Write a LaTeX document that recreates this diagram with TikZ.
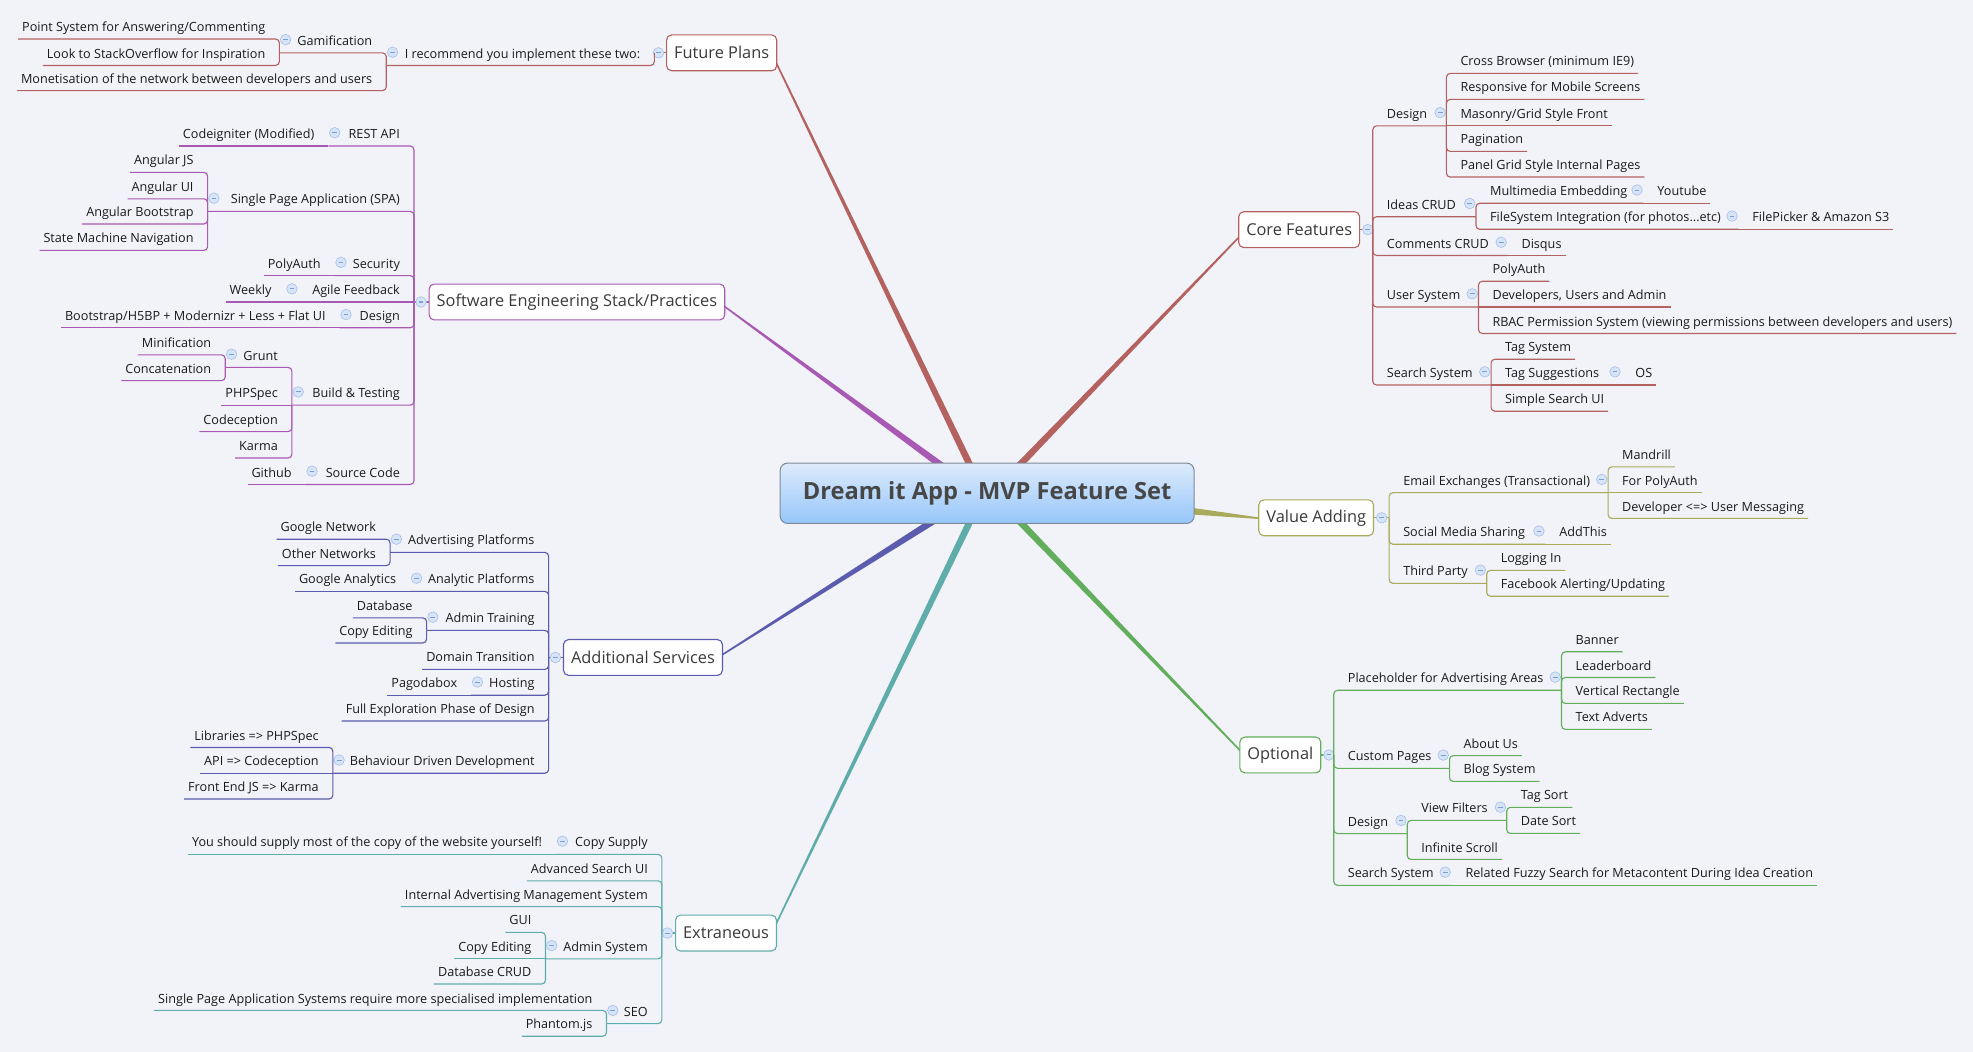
\documentclass[tikz,border=0pt]{standalone}
\usepackage{fontspec}
\setmainfont{Open Sans}
\usetikzlibrary{calc}
\definecolor{bgc}{HTML}{F2F3F9}
\definecolor{txt}{HTML}{1A1A1A}
\definecolor{ttxt}{HTML}{3A3A3A}
\definecolor{ctxt}{HTML}{474747}
\definecolor{mkf}{HTML}{D6E4F7}
\definecolor{mkd}{HTML}{A8C0E8}
\definecolor{mkm}{HTML}{7F9ED4}
\definecolor{fpc}{HTML}{B3625F}
\definecolor{sec}{HTML}{A859B3}
\definecolor{asc}{HTML}{5C5CAE}
\definecolor{exc}{HTML}{5FADAA}
\definecolor{cfc}{HTML}{B3625F}
\definecolor{vac}{HTML}{AAAA5C}
\definecolor{opc}{HTML}{62AE5C}
\definecolor{HTMLgray}{HTML}{7E8A96}
\definecolor{cTop}{HTML}{DDEBFB}
\definecolor{cBot}{HTML}{96C6FA}
\colorlet{bc}{black}
\tikzset{
  rt/.style={anchor=south west, inner xsep=3pt, inner ysep=3.2pt, text height=7.5pt, text depth=2.5pt, font=\fontsize{10.05}{11}\selectfont, text=txt},
  lt/.style={rt, anchor=south east},
  ln/.style={draw=bc, line width=0.9pt, rounded corners=3pt},
  mk/.style={circle, inner sep=0pt, minimum size=8.4pt, fill=mkf, draw=mkd, line width=0.5pt,
    path picture={\draw[mkm, line width=0.8pt] ($(path picture bounding box.center)+(-1.9,0)$) -- ($(path picture bounding box.center)+(1.9,0)$);}},
  topic/.style={draw=bc, fill=white, rounded corners=4pt, line width=0.9pt, inner xsep=6pt, minimum height=28.5pt, font=\fontsize{13}{15}\selectfont, text=ttxt},
  central/.style={draw=HTMLgray, rounded corners=6pt, line width=0.8pt, top color=cTop, bottom color=cBot, minimum width=329pt, minimum height=48pt, font=\bfseries\fontsize{18.8}{22}\selectfont, text=ctxt},
}
% junction coordinate with remembered y
\newcommand\J[3]{\coordinate (#1J) at (#2,#3);\expandafter\gdef\csname jy@#1\endcsname{#3}}
% right leaf: name, parent, underline y, text
\newcommand\RL[4]{%
  \node[rt] (#1) at ($(#2J |- 0,#3)+(8,0)$) {#4};
  \ifdim\csname jy@#2\endcsname pt=#3pt \draw[ln] (#2J) -- (#1.south east);
  \else \draw[ln] (#2J) |- (#1.south east); \fi}
% right middle: name, parent, underline y, junction x, text
\newcommand\RM[5]{%
  \node[rt] (#1) at ($(#2J |- 0,#3)+(8,0)$) {#5};
  \J{#1}{#4}{#3}
  \ifdim\csname jy@#2\endcsname pt=#3pt \draw[ln] (#2J) -- (#1J);
  \else \draw[ln] (#2J) |- (#1J); \fi
  \node[mk] (#1M) at ($(#1J)+(-5,-10.5)$) {};}
% left leaf
\newcommand\LL[4]{%
  \node[lt] (#1) at ($(#2J |- 0,#3)+(-8,0)$) {#4};
  \ifdim\csname jy@#2\endcsname pt=#3pt \draw[ln] (#2J) -- (#1.south west);
  \else \draw[ln] (#2J) |- (#1.south west); \fi}
% left middle
\newcommand\LM[5]{%
  \node[lt] (#1) at ($(#2J |- 0,#3)+(-8,0)$) {#5};
  \J{#1}{#4}{#3}
  \ifdim\csname jy@#2\endcsname pt=#3pt \draw[ln] (#2J) -- (#1J);
  \else \draw[ln] (#2J) |- (#1J); \fi
  \node[mk] (#1M) at ($(#1J)+(5,-10.5)$) {};}
% tapered main branch
\newcommand\taper[3]{%
  \fill[#3] ($(#1)!2.7pt!90:(#2)$) -- ($(#2)!0.6pt!-90:(#1)$) -- ($(#2)!0.6pt!90:(#1)$) -- ($(#1)!2.7pt!-90:(#2)$) -- cycle;}
\begin{document}
\begin{tikzpicture}[x=1pt,y=-1pt]
\path[use as bounding box, fill=bgc] (0,0) rectangle (1568,836);
% ---- main branches ----
\coordinate (cFP) at (772,372);  \coordinate (eFP) at (615,46);
\coordinate (cSE) at (751,372);  \coordinate (eSE) at (575,243);
\coordinate (cAS) at (745,412);  \coordinate (eAS) at (573,521);
\coordinate (cEX) at (772,412);  \coordinate (eEX) at (615,738);
\coordinate (cCF) at (808,372);  \coordinate (eCF) at (987,186);
\coordinate (cVA) at (945,406);  \coordinate (eVA) at (1002,412);
\coordinate (cOP) at (808,412);  \coordinate (eOP) at (987,598);
\taper{cFP}{eFP}{fpc}
\taper{cSE}{eSE}{sec}
\taper{cAS}{eAS}{asc}
\taper{cEX}{eEX}{exc}
\taper{cCF}{eCF}{cfc}
\taper{cVA}{eVA}{vac}
\taper{cOP}{eOP}{opc}
\node[central] (c) at (784.5,392) {Dream it App - MVP Feature Set};
% ---- Future Plans ----
\begin{scope}\colorlet{bc}{fpc}
\node[topic] (fp) at (573.5,42) {Future Plans};
\J{fp}{520}{42}
\draw[ln] (fp.west) -- (fpJ);
\node[mk] (fpM) at ($(fp.west)+(-6,0)$) {};
\LM{ir}{fp}{52}{307}{I recommend you implement these two:}
\LM{gam}{ir}{42}{222}{Gamification}
\LL{ps}{gam}{31}{Point System for Answering/Commenting}
\LL{ls}{gam}{52}{Look to StackOverflow for Inspiration}
\LL{mon}{ir}{72}{Monetisation of the network between developers and users}
\end{scope}
% ---- Software Engineering ----
\begin{scope}\colorlet{bc}{sec}
\node[topic] (se) at (458.5,240) {Software Engineering Stack/Practices};
\J{se}{329}{240}
\draw[ln] (se.west) -- (seJ);
\node[mk] (seM) at ($(se.west)+(-6,0)$) {};
\LM{rest}{se}{116}{261}{REST API}
\LL{ci}{rest}{116}{Codeigniter (Modified)}
\LM{spa}{se}{168}{165}{Single Page Application (SPA)}
\LL{ajs}{spa}{137}{Angular JS}
\LL{aui}{spa}{158}{Angular UI}
\LL{abs}{spa}{178}{Angular Bootstrap}
\LL{smn}{spa}{199}{State Machine Navigation}
\LM{sec}{se}{219}{266}{Security}
\LL{pa}{sec}{219}{PolyAuth}
\LM{agile}{se}{240}{227}{Agile Feedback}
\LL{wk}{agile}{240}{Weekly}
\LM{sedes}{se}{260.5}{270}{Design}
\LL{bs}{sedes}{260.5}{Bootstrap/H5BP + Modernizr + Less + Flat UI}
\LM{bt}{se}{322}{232}{Build \& Testing}
\LM{grunt}{bt}{292}{179}{Grunt}
\LL{minf}{grunt}{282}{Minification}
\LL{conc}{grunt}{302.5}{Concatenation}
\LL{phps}{bt}{322}{PHPSpec}
\LL{codec}{bt}{343}{Codeception}
\LL{karma}{bt}{364}{Karma}
\LM{src}{se}{385}{243}{Source Code}
\LL{gh}{src}{385}{Github}
\end{scope}
% ---- Additional Services ----
\begin{scope}\colorlet{bc}{asc}
\node[topic] (as) at (511,522.5) {Additional Services};
\J{as}{436}{522.5}
\draw[ln] (as.west) -- (asJ);
\node[mk] (asM) at ($(as.west)+(-6,0)$) {};
\LM{adv}{as}{439}{310}{Advertising Platforms}
\LL{gn}{adv}{428.5}{Google Network}
\LL{on}{adv}{449.5}{Other Networks}
\LM{anp}{as}{470}{326}{Analytic Platforms}
\LL{ga}{anp}{470}{Google Analytics}
\LM{adt}{as}{501}{339}{Admin Training}
\LL{db}{adt}{491}{Database}
\LL{ceA}{adt}{511}{Copy Editing}
\LL{dt}{as}{532}{Domain Transition}
\LM{host}{as}{552.5}{374.5}{Hosting}
\LL{pago}{host}{552.5}{Pagodabox}
\LL{fep}{as}{573}{Full Exploration Phase of Design}
\LM{bdd}{as}{614.5}{264.5}{Behaviour Driven Development}
\LL{lib}{bdd}{594}{Libraries => PHPSpec}
\LL{api}{bdd}{614.5}{API => Codeception}
\LL{fej}{bdd}{635}{Front End JS => Karma}
\end{scope}
% ---- Extraneous ----
\begin{scope}\colorlet{bc}{exc}
\node[topic] (ex) at (577,741.5) {Extraneous};
\J{ex}{526}{741.5}
\draw[ln] (ex.west) -- (exJ);
\node[mk] (exM) at ($(ex.west)+(-6,0)$) {};
\LM{cs}{ex}{679}{442}{Copy Supply}
\LL{ys}{cs}{679}{You should supply most of the copy of the website yourself!}
\LL{asu}{ex}{700}{Advanced Search UI}
\LL{iams}{ex}{720.5}{Internal Advertising Management System}
\LM{adms}{ex}{762}{433.5}{Admin System}
\LL{gui}{adms}{741}{GUI}
\LL{ceB}{adms}{762}{Copy Editing}
\LL{dbc}{adms}{782}{Database CRUD}
\LM{seo}{ex}{813.5}{482}{SEO}
\LL{spas}{seo}{803}{Single Page Application Systems require more specialised implementation}
\LL{phjs}{seo}{823.5}{Phantom.js}
\end{scope}
% ---- Core Features ----
\begin{scope}\colorlet{bc}{cfc}
\node[topic] (cf) at (1032.5,182.5) {Core Features};
\J{cf}{1091}{182.5}
\draw[ln] (cf.east) -- (cfJ);
\node[mk] (cfM) at ($(cf.east)+(6,0)$) {};
\RM{cdes}{cf}{100}{1149.5}{Design}
\RL{cb}{cdes}{58.3}{Cross Browser (minimum IE9)}
\RL{rms}{cdes}{79}{Responsive for Mobile Screens}
\RL{mgs}{cdes}{100}{Masonry/Grid Style Front}
\RL{pag}{cdes}{120.3}{Pagination}
\RL{pgs}{cdes}{140.7}{Panel Grid Style Internal Pages}
\RM{icrud}{cf}{172.2}{1173}{Ideas CRUD}
\RM{mme}{icrud}{161.5}{1306}{Multimedia Embedding}
\RL{yt}{mme}{161.5}{Youtube}
\RM{fsi}{icrud}{182.2}{1381.5}{FileSystem Integration (for photos...etc)}
\RL{fpk}{fsi}{182.2}{FilePicker \& Amazon S3}
\RM{ccrud}{cf}{203}{1198}{Comments CRUD}
\RL{dsq}{ccrud}{203}{Disqus}
\RM{us}{cf}{244}{1175}{User System}
\RL{paB}{us}{223.5}{PolyAuth}
\RL{dua}{us}{244}{Developers, Users and Admin}
\RL{rbac}{us}{265}{RBAC Permission System (viewing permissions between developers and users)}
\RM{ss}{cf}{306}{1185}{Search System}
\RL{tsys}{ss}{285.5}{Tag System}
\RM{tsug}{ss}{306}{1288.5}{Tag Suggestions}
\RL{os}{tsug}{306}{OS}
\RL{ssui}{ss}{326.8}{Simple Search UI}
\end{scope}
% ---- Value Adding ----
\begin{scope}\colorlet{bc}{vac}
\node[topic] (va) at (1046,411.5) {Value Adding};
\J{va}{1104}{411.5}
\draw[ln] (va.east) -- (vaJ);
\node[mk] (vaM) at ($(va.east)+(6,0)$) {};
\RM{email}{va}{391.5}{1278}{Email Exchanges (Transactional)}
\RL{mand}{email}{371}{Mandrill}
\RL{fpa}{email}{391.5}{For PolyAuth}
\RL{dum}{email}{412}{Developer <=> User Messaging}
\RM{sms}{va}{432.5}{1228}{Social Media Sharing}
\RL{addt}{sms}{432.5}{AddThis}
\RM{tp}{va}{463.6}{1181.5}{Third Party}
\RL{login}{tp}{453.3}{Logging In}
\RL{fbau}{tp}{473.8}{Facebook Alerting/Updating}
\end{scope}
% ---- Optional ----
\begin{scope}\colorlet{bc}{opc}
\node[topic] (op) at (1017.5,600) {Optional};
\J{op}{1060}{600}
\draw[ln] (op.east) -- (opJ);
\node[mk] (opM) at ($(op.east)+(6,0)$) {};
\RM{ph}{op}{548.6}{1241}{Placeholder for Advertising Areas}
\RL{ban}{ph}{518}{Banner}
\RL{lead}{ph}{538.4}{Leaderboard}
\RL{vr}{ph}{559}{Vertical Rectangle}
\RL{ta}{ph}{579.6}{Text Adverts}
\RM{cp}{op}{610.6}{1152}{Custom Pages}
\RL{au}{cp}{600.5}{About Us}
\RL{blog}{cp}{621}{Blog System}
\RM{odes}{op}{662.5}{1118.4}{Design}
\RM{vf}{odes}{652}{1197.4}{View Filters}
\RL{tsort}{vf}{641.6}{Tag Sort}
\RL{dsort}{vf}{662.3}{Date Sort}
\RL{inf}{odes}{683}{Infinite Scroll}
\RM{ssB}{op}{703.6}{1153.5}{Search System}
\RL{rfs}{ssB}{703.6}{Related Fuzzy Search for Metacontent During Idea Creation}
\end{scope}
\end{tikzpicture}
\end{document}
